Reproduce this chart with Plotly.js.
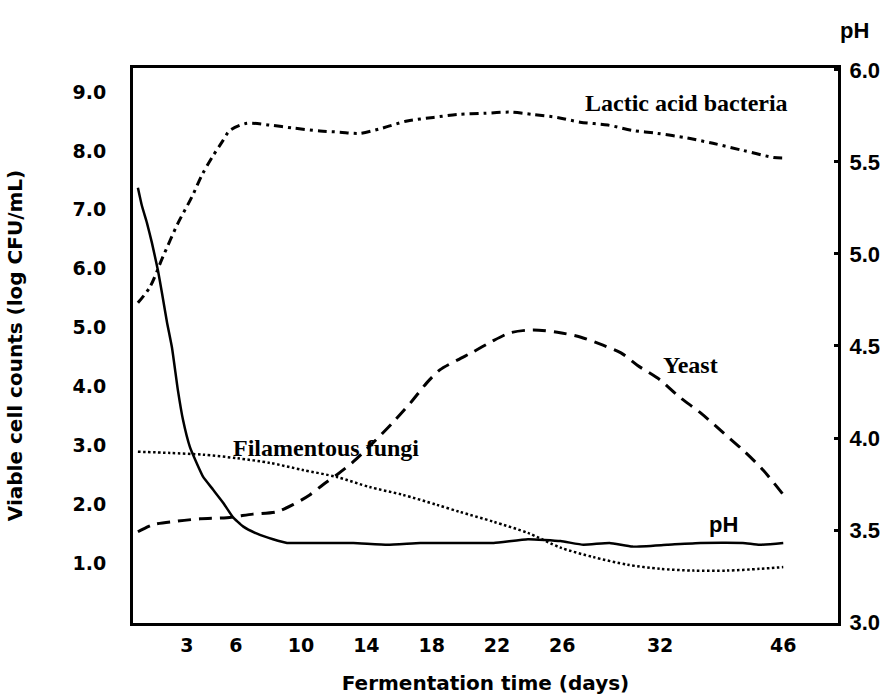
<!DOCTYPE html>
<html>
<head>
<meta charset="utf-8">
<script src="https://cdn.plot.ly/plotly-3.0.1.min.js"></script>
<style>html,body{margin:0;padding:0;background:#fff;}#chart{width:893px;height:699px;}</style>
</head>
<body>
<div id="chart"></div>
<script>
// ---- data (days, values) ----
const labDays = [0,0.74,1.53,2.45,3.31,3.92,4.54,5.15,5.64,6.68,8.09,9.5,11.16,12.38,13.61,15.0,16.5,18.1,19.6,21.2,22.8,24.2,25.7,27.1,28.8,30.3,31.8,35.1,38.0,41.4,44.9,46];
const labVals = [5.42,5.69,6.20,6.77,7.22,7.59,7.89,8.15,8.35,8.47,8.44,8.39,8.34,8.32,8.30,8.39,8.51,8.57,8.62,8.64,8.66,8.62,8.57,8.49,8.44,8.35,8.30,8.22,8.13,8.01,7.89,7.88];

const yeastDays = [0,0.92,2.39,3.8,5.46,7.05,8.52,9.5,10.55,11.34,12.2,13.2,14.4,15.6,16.7,17.7,18.5,19.6,20.5,21.6,22.8,24.2,25.7,27.1,28.5,29.6,30.6,32.0,34.2,36.6,39.2,41.4,43.7,46];
const yeastVals = [1.53,1.65,1.71,1.75,1.77,1.83,1.87,1.99,2.16,2.33,2.50,2.72,3.04,3.38,3.72,4.06,4.28,4.45,4.58,4.75,4.91,4.96,4.92,4.84,4.70,4.57,4.36,4.11,3.82,3.55,3.21,2.92,2.58,2.16];

const fungiDays = [0,1.96,3.99,6.07,8.09,10.1,12.2,14.2,16.2,18.3,19.7,21.8,23.9,25.9,27.9,30.0,32.0,35.8,39.6,43.3,46];
const fungiVals = [2.89,2.87,2.84,2.78,2.70,2.58,2.46,2.29,2.16,1.99,1.87,1.70,1.51,1.26,1.10,0.97,0.90,0.87,0.87,0.90,0.93];

const phDays = [0,0.25,0.55,0.86,1.23,1.47,1.78,2.09,2.45,2.76,3.19,3.62,3.99,4.6,5.21,5.82,6.44,7.3,8.28,9.14,11.2,13.2,15.3,17.3,19.3,21.8,23.9,25.9,27.3,28.9,30.3,32.8,36.6,41.4,43.3,46];
const phVals = [5.36,5.26,5.17,5.06,4.91,4.79,4.63,4.49,4.26,4.10,3.95,3.86,3.79,3.72,3.65,3.57,3.52,3.48,3.45,3.43,3.43,3.43,3.42,3.43,3.43,3.43,3.45,3.44,3.42,3.43,3.41,3.42,3.43,3.43,3.42,3.43];

const xTickDays = [3,6,10,14,18,22,26,32,46];
const leftTicks = [1,2,3,4,5,6,7,8,9];
const rightTicks = [3.0,3.5,4.0,4.5,5.0,5.5,6.0];

// The original time axis is compressed after day 32
function toPos(d){ return d <= 32 ? d : 32 + (d - 32) * 0.539; }

const lineBase = {mode:'lines', hoverinfo:'skip', showlegend:false};
const traces = [
  Object.assign({}, lineBase, {x: labDays.map(toPos), y: labVals, line:{color:'#000', width:3, dash:'9px,5px,3px,5px', shape:'spline', smoothing:0.8}}),
  Object.assign({}, lineBase, {x: yeastDays.map(toPos), y: yeastVals, line:{color:'#000', width:3, dash:'13px,8px', shape:'spline', smoothing:0.8}}),
  Object.assign({}, lineBase, {x: fungiDays.map(toPos), y: fungiVals, line:{color:'#000', width:2.5, dash:'2.5px,2.5px', shape:'spline', smoothing:0.8}}),
  Object.assign({}, lineBase, {x: phDays.map(toPos), y: phVals, yaxis:'y2', line:{color:'#000', width:2.5, shape:'spline', smoothing:0.4}})
];

const tickFontL = {family:'DejaVu Sans', size:19, color:'#000', weight:'bold'};
const tickFontR = {family:'Liberation Sans', size:22, color:'#000', weight:'bold'};
const labelFont = {family:'Liberation Serif', size:24, color:'#000', weight:'bold'};
const phFont = {family:'Liberation Sans', size:22, color:'#000', weight:'bold'};

const layout = {
  width:893, height:699,
  margin:{l:133, r:55, t:68, b:76},
  paper_bgcolor:'#fff', plot_bgcolor:'#fff',
  font:{family:'DejaVu Sans', color:'#000'},
  xaxis:{
    range:[-0.3, 42.9], showgrid:false, zeroline:false,
    showline:true, linecolor:'#000', linewidth:3, mirror:true,
    tickmode:'array', tickvals:xTickDays.map(toPos), ticktext:xTickDays.map(String),
    ticks:'', ticklabelstandoff:3, tickfont:tickFontL,
    title:{text:'Fermentation time (days)', font:{family:'DejaVu Sans', size:20, color:'#000', weight:'bold'}, standoff:22}
  },
  yaxis:{
    range:[-0.02, 9.41], showgrid:false, zeroline:false,
    showline:true, linecolor:'#000', linewidth:3,
    tickmode:'array', tickvals:leftTicks, ticktext:leftTicks.map(v=>v.toFixed(1)),
    ticks:'', ticklabelstandoff:20, tickfont:tickFontL,
    title:{text:'Viable cell counts (log CFU/mL)', font:{family:'DejaVu Sans', size:20, color:'#000', weight:'bold'}, standoff:45}
  },
  yaxis2:{
    overlaying:'y', side:'right', range:[2.995, 6.01], showgrid:false, zeroline:false,
    showline:true, linecolor:'#000', linewidth:3,
    tickmode:'array', tickvals:rightTicks, ticktext:rightTicks.map(v=>v.toFixed(1)),
    ticks:'inside', ticklen:4, tickwidth:3, tickcolor:'#000', ticklabelstandoff:4, tickfont:tickFontR
  },
  annotations:[
    {xref:'x', yref:'y', x:33.6, y:8.81, xanchor:'center', yanchor:'middle', text:'Lactic acid bacteria', showarrow:false, font:labelFont},
    {xref:'x', yref:'y', x:33.84, y:4.36, xanchor:'center', yanchor:'middle', text:'Yeast', showarrow:false, font:labelFont},
    {xref:'x', yref:'y', x:11.53, y:2.95, xanchor:'center', yanchor:'middle', text:'Filamentous fungi', showarrow:false, font:labelFont},
    {xref:'x', yref:'y', x:35.87, y:1.65, xanchor:'center', yanchor:'middle', text:'pH', showarrow:false, font:phFont},
    {xref:'paper', yref:'paper', x:1.023, y:1.068, xanchor:'center', yanchor:'middle', text:'pH', showarrow:false, font:phFont}
  ]
};

Plotly.newPlot('chart', traces, layout, {staticPlot:true, displayModeBar:false});
</script>
</body>
</html>
